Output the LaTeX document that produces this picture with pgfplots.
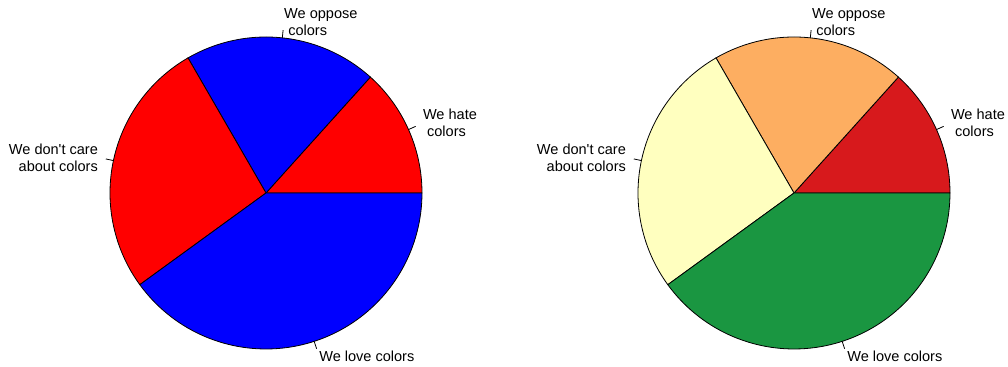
\documentclass[border=0pt]{standalone}
\usepackage{pgfplots}
\pgfplotsset{compat=1.18}
\usepackage{fontspec}
\setmainfont{Liberation Sans}
\definecolor{cHate}{HTML}{D7191C}
\definecolor{cOppose}{HTML}{FDAE61}
\definecolor{cCare}{HTML}{FFFFBF}
\definecolor{cLove}{HTML}{1A9641}
% slice values: hate 2, oppose 3, don't care 4, love 6 (total 15)
\def\vA{2}\def\vB{3}\def\vC{4}\def\vD{6}\def\vT{15}
\pgfmathsetmacro\aA{360*\vA/\vT}
\pgfmathsetmacro\aB{\aA+360*\vB/\vT}
\pgfmathsetmacro\aC{\aB+360*\vC/\vT}
\pgfmathsetmacro\aD{\aC+360*\vD/\vT}
\pgfmathsetmacro\mA{\aA/2}
\pgfmathsetmacro\mB{(\aA+\aB)/2}
\pgfmathsetmacro\mC{(\aB+\aC)/2}
\pgfmathsetmacro\mD{(\aC+\aD)/2}
\pgfplotsset{
  pie/.style={hide axis, scale only axis, width=234pt, height=234pt,
    xmin=-1, xmax=1, ymin=-1, ymax=1, clip=false, anchor=center},
  sl/.style={draw=black, line width=0.6pt, samples=80, variable=\t},
}
\tikzset{lab/.style={inner sep=0pt, font=\fontsize{10.9}{12.75}\selectfont}}
\newcommand\pielabels{%
  \draw[line width=0.6pt] (axis cs:{cos(\mA)},{sin(\mA)}) -- (axis cs:{1.05*cos(\mA)},{1.05*sin(\mA)});
  \draw[line width=0.6pt] (axis cs:{cos(\mB)},{sin(\mB)}) -- (axis cs:{1.05*cos(\mB)},{1.05*sin(\mB)});
  \draw[line width=0.6pt] (axis cs:{cos(\mC)},{sin(\mC)}) -- (axis cs:{1.05*cos(\mC)},{1.05*sin(\mC)});
  \draw[line width=0.6pt] (axis cs:{cos(\mD)},{sin(\mD)}) -- (axis cs:{1.05*cos(\mD)},{1.05*sin(\mD)});
  \node[lab, anchor=west, align=left] at (axis cs:{1.1*cos(\mA)},{1.1*sin(\mA)}) {We hate\\\hspace*{0.28em}colors};
  \node[lab, anchor=west, align=left] at (axis cs:{1.1*cos(\mB)},{1.1*sin(\mB)}) {We oppose\\\hspace*{0.28em}colors};
  \node[lab, anchor=east, align=right] at (axis cs:{1.1*cos(\mC)},{1.1*sin(\mC)}) {We don\textquotesingle t care\\about colors};
  \node[lab, anchor=west, align=left] at (axis cs:{1.1*cos(\mD)},{1.1*sin(\mD)}) {We love colors};
}
\begin{document}
\begin{tikzpicture}[x=1pt,y=1pt]
\useasboundingbox (0,0) rectangle (756,275.25);
\begin{axis}[pie, at={(199.5pt,130.5pt)}]
\addplot[sl, fill=red, domain=0:\aA] ({cos(\t)},{sin(\t)}) -- (axis cs:0,0) -- cycle;
\addplot[sl, fill=blue, domain=\aA:\aB] ({cos(\t)},{sin(\t)}) -- (axis cs:0,0) -- cycle;
\addplot[sl, fill=red, domain=\aB:\aC] ({cos(\t)},{sin(\t)}) -- (axis cs:0,0) -- cycle;
\addplot[sl, fill=blue, domain=\aC:\aD] ({cos(\t)},{sin(\t)}) -- (axis cs:0,0) -- cycle;
\pielabels
\end{axis}
\begin{axis}[pie, at={(595.5pt,130.5pt)}]
\addplot[sl, fill=cHate, domain=0:\aA] ({cos(\t)},{sin(\t)}) -- (axis cs:0,0) -- cycle;
\addplot[sl, fill=cOppose, domain=\aA:\aB] ({cos(\t)},{sin(\t)}) -- (axis cs:0,0) -- cycle;
\addplot[sl, fill=cCare, domain=\aB:\aC] ({cos(\t)},{sin(\t)}) -- (axis cs:0,0) -- cycle;
\addplot[sl, fill=cLove, domain=\aC:\aD] ({cos(\t)},{sin(\t)}) -- (axis cs:0,0) -- cycle;
\pielabels
\end{axis}
\end{tikzpicture}
\end{document}
